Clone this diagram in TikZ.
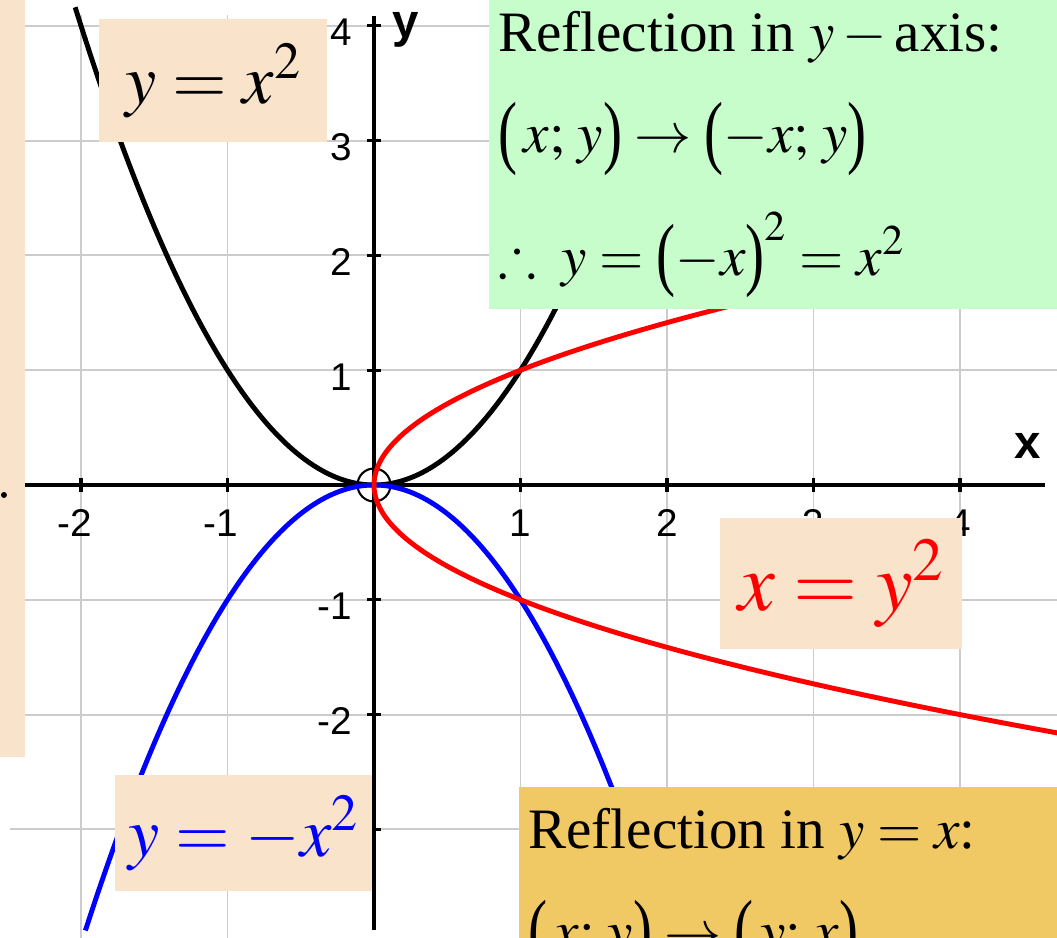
\documentclass[tikz,border=0pt]{standalone}
\usepackage{mathptmx}
\usepackage{amssymb}
\usepackage{fontspec}
\setmainfont{Liberation Serif}
\setsansfont{Liberation Sans}
\usetikzlibrary{positioning}
\definecolor{grfPeach}{HTML}{F9E3CB}
\definecolor{grfMint}{HTML}{C6FDCB}
\definecolor{grfGold}{HTML}{F0C864}
\definecolor{grfGrid}{HTML}{CCCCCC}
\newcommand{\grfOpen}{\mathopen{\raisebox{-0.1em}{\scalebox{1}[1.42]{(}}}}
\newcommand{\grfClose}{\mathclose{\raisebox{-0.1em}{\scalebox{1}[1.42]{)}}}}
\tikzset{
  grfGridLine/.style={draw=grfGrid, line width=1.1pt},
  grfAxis/.style={draw=black, line width=1.9pt},
  grfCurve/.style={line width=2.8pt, smooth},
  grfTick/.style={font=\fontsize{22}{26}\selectfont\sffamily, inner sep=0pt},
  grfAxisName/.style={font=\fontsize{27}{30}\selectfont\sffamily\bfseries, inner sep=0pt},
  grfBox/.style={
    fill=#1,
    anchor=north west,
    inner sep=0pt
  },
  grfEq/.style={font=\fontsize{40}{46}\selectfont},
  grfText/.style={
    font=\fontsize{32.5}{38}\selectfont,
    anchor=base west,
    inner sep=0pt
  }
}

\begin{document}
\begin{tikzpicture}[x=2.93cm, y=2.296cm]
  \useasboundingbox (-2.5529,-3.9373) rectangle (4.6621,4.2247);
  \clip (-2.5529,-3.9373) rectangle (4.6621,4.2247);

  % grid and axes
  \foreach \i in {-2,-1,1,2,3,4}
    \draw[grfGridLine] (\i,-3.95) -- (\i,4.094);
  \foreach \j in {-3,-2,-1,1,2,3,4}
    \draw[grfGridLine] (-2.485,\j) -- (4.67,\j);
  \draw[grfAxis] (-2.485,0) -- (4.58,0);
  \draw[grfAxis] (0,-3.876) -- (0,4.085);
  \foreach \i in {-2,-1,1,2,3,4}
    \draw[grfAxis] (\i,0) ++(0,-0.14cm) -- ++(0,0.28cm);
  \foreach \j in {-3,-2,-1,1,2,3,4}
    \draw[grfAxis] (0,\j) ++(-0.14cm,0) -- ++(0.28cm,0);

  \foreach \i/\t in {-2/\llap{-}2,-1/\llap{-}1,1/1,2/2,3/3,4/4}
    \node[grfTick, anchor=base, yshift=-1.04cm] (tx\i) at (\i,0) {\t};
  \foreach \j in {-2,-1,1,2,3,4}
    \node[grfTick, anchor=base east, xshift=-0.44cm, yshift=-0.40cm] (ty\j) at (0,\j) {\j};
  \node[grfAxisName, anchor=base] (xname) at (4.464,0.235) {x};
  \node[grfAxisName, anchor=base] (yname) at (0.218,3.902) {y};

  % curves
  \node[draw, circle, minimum size=0.66cm, line width=1.2pt, inner sep=0pt] (origin) at (0,0) {};
  \draw[grfCurve, black] plot[domain=-2.04:1.6, samples=80] (\x,{\x*\x});
  \draw[grfCurve, blue] plot[domain=-1.97:1.75, samples=80] (\x,{-\x*\x});
  \draw[grfCurve, red] plot[domain=-2.17:1.75, samples=80] ({\x*\x},\x);

  % boxes
  \node[grfBox=grfPeach, anchor=north east, minimum width=0.6cm, minimum height=15.14cm] (leftStrip) at (-2.382,4.2247) {};
  \fill (-2.526,-0.087) circle (0.06cm);
  \node[grfBox=grfPeach, grfEq, minimum width=4.56cm, minimum height=2.46cm] (eqParab) at (-1.877,4.059) {$y=x^2$};
  \node[grfBox=grfPeach, grfEq, text=red, font=\fontsize{47}{52}\selectfont, minimum width=4.84cm, minimum height=2.62cm] (eqRoot) at (2.362,-0.287) {$x=y^2$};
  \node[grfBox=grfPeach, grfEq, text=blue, minimum width=5.14cm, minimum height=2.32cm] (eqNeg) at (-1.768,-2.526) {$y=-x^2$};

  \node[grfBox=grfMint, minimum width=11.6cm, minimum height=6.38cm] (mintBox) at (0.785,4.312) {};
  \node[grfText] (mintA) at (0.846,3.772) {Reflection in $y-{}$axis:};
  \node[grfText] (mintB) at (0.846,2.892) {$\grfOpen\,x;\,y\grfClose\;{\rightarrow}\;\grfOpen-x;\,y\grfClose$};
  \node[grfText] (mintC) at (0.846,1.829) {$\therefore\,\,y=\grfOpen-x\grfClose^2=x^2$};

  \node[grfBox=grfGold, minimum width=11cm, minimum height=3.4cm] (goldBox) at (0.990,-2.631) {};
  \node[grfText] (goldA) at (1.051,-3.162) {Reflection in $y=x$:};
  \node[grfText] (goldB) at (1.051,-4.059) {$\grfOpen\,x;\,y\grfClose\;{\rightarrow}\;\grfOpen\,y;\,x\grfClose$};
\end{tikzpicture}
\end{document}
